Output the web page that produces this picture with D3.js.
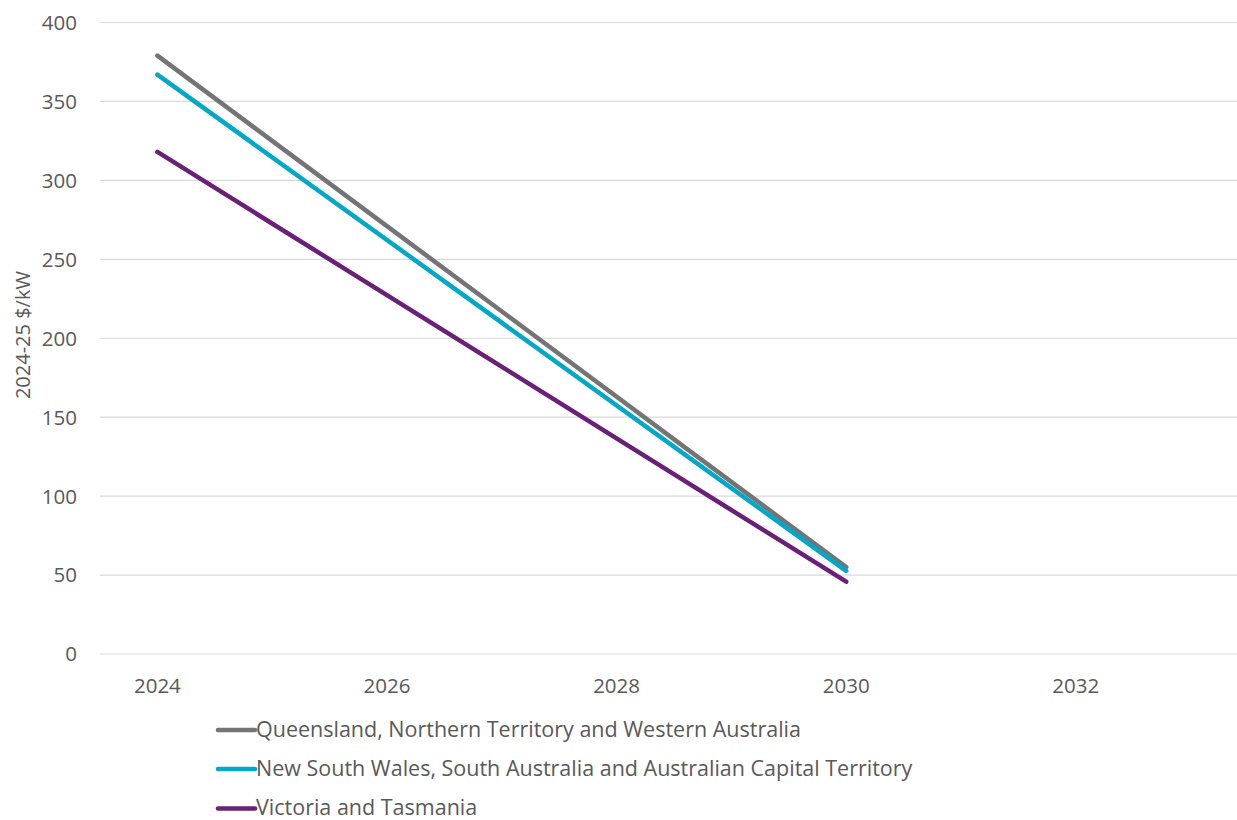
<!DOCTYPE html>
<html>
<head>
<meta charset="utf-8">
<script src="https://cdn.jsdelivr.net/npm/d3@7"></script>
<style>
  html, body { margin: 0; padding: 0; background: #fff; }
  svg { display: block; font-family: "Open Sans", "Noto Sans", sans-serif; }
</style>
</head>
<body>
<svg id="chart" width="1237" height="820"></svg>
<script>
// Cost per kW by region group, 2024 to 2030
const years = [2024, 2030];
const qldNtWa = [379, 55];
const nswSaAct = [367, 52.7];
const vicTas = [318, 45.8];

const seriesNames = [
  "Queensland, Northern Territory and Western Australia",
  "New South Wales, South Australia and Australian Capital Territory",
  "Victoria and Tasmania"
];
const seriesValues = [qldNtWa, nswSaAct, vicTas];
const seriesColors = ["#747474", "#00a8c8", "#6b2077"];

const yTicks = [0, 50, 100, 150, 200, 250, 300, 350, 400];
const xTicks = [2024, 2026, 2028, 2030, 2032];
const yTitle = "2024-25 $/kW";

const svg = d3.select("#chart");

const x = d3.scaleLinear().domain([2023.5, 2033.5]).range([100, 1248]);
const y = d3.scaleLinear().domain([0, 400]).range([654, 22.5]);

// horizontal gridlines
svg.append("g")
  .selectAll("line")
  .data(yTicks)
  .join("line")
  .attr("x1", 100)
  .attr("x2", 1237)
  .attr("y1", d => y(d))
  .attr("y2", d => y(d))
  .attr("stroke", "#d9d9d9")
  .attr("stroke-width", 1.2);

// y tick labels
svg.append("g")
  .selectAll("text")
  .data(yTicks)
  .join("text")
  .attr("x", 77)
  .attr("y", d => y(d))
  .attr("dy", "0.36em")
  .attr("text-anchor", "end")
  .attr("font-size", 20.5)
  .attr("fill", "#595959")
  .text(d => d);

// x tick labels
svg.append("g")
  .selectAll("text")
  .data(xTicks)
  .join("text")
  .attr("x", d => x(d))
  .attr("y", 693)
  .attr("text-anchor", "middle")
  .attr("font-size", 20.5)
  .attr("fill", "#595959")
  .text(d => d);

// y axis title
svg.append("text")
  .attr("transform", `translate(30, ${y(202)}) rotate(-90)`)
  .attr("text-anchor", "middle")
  .attr("font-size", 20)
  .attr("fill", "#595959")
  .text(yTitle);

// series lines
const line = d3.line()
  .x((d, i) => x(years[i]))
  .y(d => y(d));

svg.append("g")
  .selectAll("path")
  .data(seriesValues)
  .join("path")
  .attr("d", d => line(d))
  .attr("fill", "none")
  .attr("stroke", (d, i) => seriesColors[i])
  .attr("stroke-width", 4.5)
  .attr("stroke-linecap", "round");

// legend
const legendRows = [730, 769, 808.5];
const legend = svg.append("g")
  .selectAll("g")
  .data(seriesNames)
  .join("g")
  .attr("transform", (d, i) => `translate(218, ${legendRows[i]})`);

legend.append("line")
  .attr("x1", 0).attr("x2", 37)
  .attr("y1", 0).attr("y2", 0)
  .attr("stroke", (d, i) => seriesColors[i])
  .attr("stroke-width", 4.5)
  .attr("stroke-linecap", "round");

legend.append("text")
  .attr("x", 38)
  .attr("y", 6.8)
  .attr("font-size", 21.5)
  .attr("fill", "#595959")
  .text(d => d);
</script>
</body>
</html>
